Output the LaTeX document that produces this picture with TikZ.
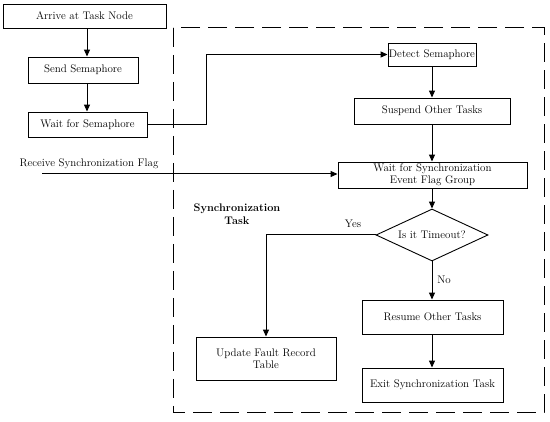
\documentclass[tikz,border=0pt]{standalone}
\usetikzlibrary{shapes.geometric,arrows.meta}

\begin{document}
\begin{tikzpicture}[x=1pt,y=-1pt,
  txt/.style={font=\fontsize{11}{12.5}\selectfont},
  stepbox/.style={txt, draw, line width=0.9pt, align=center, inner sep=0pt},
  flow/.style={line width=1pt, -{Triangle[length=7pt,width=6pt]}},
  plain/.style={line width=1pt}]
\useasboundingbox (0,0) rectangle (550,422);

% Dashed frame of the synchronization task
\draw[line width=1pt, dash pattern=on 19pt off 8pt] (173,28) rectangle (544,413);
\node[txt, font=\fontsize{11}{12.5}\selectfont\bfseries, align=center] (synclabel) at (237,214) {Synchronization\\Task};

% Task node side
\node[stepbox, minimum width=163, minimum height=24] (arrive) at (84.5,16) {Arrive at Task Node};
\node[stepbox, minimum width=110, minimum height=26] (send) at (83,70) {Send Semaphore};
\node[stepbox, minimum width=119, minimum height=25] (waitsem) at (87.5,124.5) {Wait for Semaphore};
\node[txt] (recvlabel) at (89,164) {Receive Synchronization Flag};
\coordinate (recvstart) at (42,174);
\coordinate (leftaxis) at (87,0);

% Synchronization task side
\node[stepbox, minimum width=88, minimum height=23] (detect) at (432,54.5) {Detect Semaphore};
\node[stepbox, minimum width=156, minimum height=26] (suspend) at (432,111) {Suspend Other Tasks};
\node[stepbox, minimum width=189, minimum height=26] (waitsync) at (432.5,175) {Wait for Synchronization\\Event Flag Group};
\node[stepbox, diamond, aspect=2.15, minimum width=112, minimum height=52] (timeout) at (432,235) {Is it Timeout?};
\node[stepbox, minimum width=141, minimum height=34] (resume) at (432.5,317) {Resume Other Tasks};
\node[stepbox, minimum width=141, minimum height=34] (exitsync) at (432.5,385) {Exit Synchronization Task};
\node[stepbox, minimum width=140, minimum height=43] (update) at (266,358.5) {Update Fault Record\\Table};

% Connectors
\draw[flow] (arrive.south -| leftaxis) -- (send.north -| leftaxis);
\draw[flow] (send.south -| leftaxis) -- (waitsem.north -| leftaxis);
\draw[flow] (waitsem.east) -- ++(59,0) |- (detect.west);
\draw[flow] (detect.south -| timeout) -- (suspend.north -| timeout);
\draw[flow] (suspend.south -| timeout) -- (waitsync.north -| timeout);
\draw[flow] (recvstart) -- (recvstart -| waitsync.west);
\draw[flow] (waitsync.south -| timeout) -- (timeout.north);
\draw[flow] (timeout.west) -| (update.north);
\draw[flow] (timeout.south) -- (resume.north -| timeout);
\draw[flow] (resume.south -| timeout) -- (exitsync.north -| timeout);
\node[txt] (yes) at (353,224) {Yes};
\node[txt] (no) at (444,280) {No};
\end{tikzpicture}
\end{document}
